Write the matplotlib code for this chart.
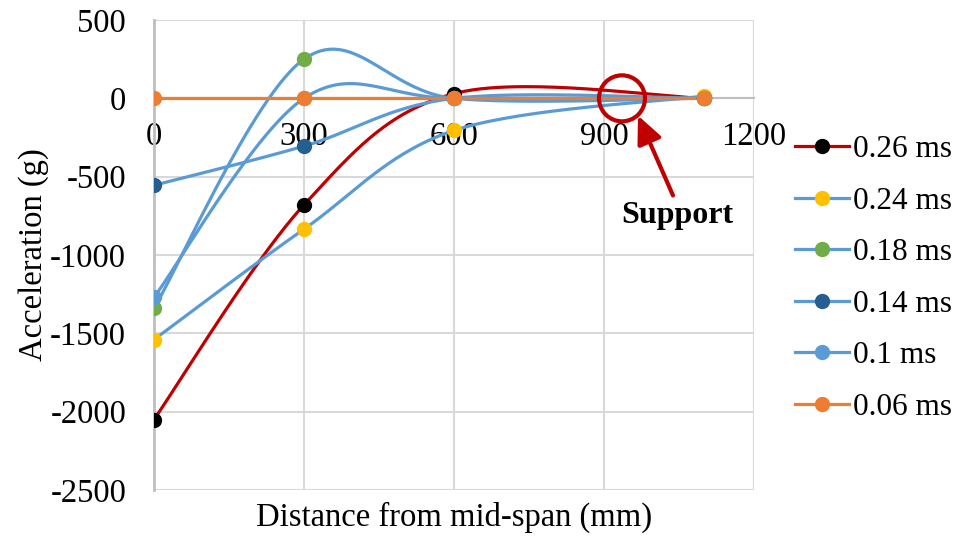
import numpy as np
import matplotlib.pyplot as plt
from matplotlib.patches import Ellipse

plt.rcParams['font.family'] = ['Liberation Serif', 'DejaVu Serif']
plt.rcParams['axes.unicode_minus'] = False

distance = [0, 300, 600, 1100]
labels = ['0.26 ms', '0.24 ms', '0.18 ms', '0.14 ms', '0.1 ms', '0.06 ms']
acc_026 = [-2050, -680, 30, 0]
acc_024 = [-1540, -835, -205, 15]
acc_018 = [-1340, 250, 0, 0]
acc_014 = [-555, -305, 0, 0]
acc_010 = [-1270, 0, 0, 0]
acc_006 = [0, 0, 0, 0]
series = [acc_026, acc_024, acc_018, acc_014, acc_010, acc_006]

line_cols = ['#C00000', '#5B9BD5', '#5B9BD5', '#5B9BD5', '#5B9BD5', '#ED7D31']
mark_cols = ['#000000', '#FFC000', '#70AD47', '#255E91', '#5B9BD5', '#ED7D31']


def smooth(x, y, n=60):
    # bezier smoothing between points, like a spreadsheet "smoothed line"
    p = np.column_stack([x, y]).astype(float)
    out = []
    for i in range(len(p) - 1):
        p0 = p[max(i - 1, 0)]
        p1 = p[i]
        p2 = p[i + 1]
        p3 = p[min(i + 2, len(p) - 1)]
        c1 = p1 + (p2 - p0) / 6
        c2 = p2 - (p3 - p1) / 6
        t = np.linspace(0, 1, n)[:, None]
        seg = ((1 - t)**3 * p1 + 3 * (1 - t)**2 * t * c1
               + 3 * (1 - t) * t**2 * c2 + t**3 * p2)
        out.append(seg if i == 0 else seg[1:])
    out = np.vstack(out)
    return out[:, 0], out[:, 1]


fig = plt.figure(figsize=(9.62, 5.38), dpi=100)
ax = fig.add_axes([154 / 962, 48 / 538, 600 / 962, 470 / 538])

for lab, vals, lc, mc in zip(labels, series, line_cols, mark_cols):
    sx, sy = smooth(distance, vals)
    ax.plot(sx, sy, color=lc, lw=2.3, zorder=3)
    ax.plot(distance, vals, ls='none', marker='o', ms=10, color=mc, zorder=4)
    ax.plot([], [], color=lc, lw=2.3, marker='o', ms=10, mfc=mc, mec=mc, label=lab)

ax.set_xlim(0, 1200)
ax.set_ylim(-2500, 500)
ax.set_xticks(np.arange(0, 1201, 300))
ax.set_yticks(np.arange(-2500, 501, 500))
ax.grid(True, color='#d9d9d9', lw=1.5)
ax.set_axisbelow(True)
for s in ['top', 'right']:
    ax.spines[s].set_visible(False)
ax.spines['bottom'].set_position(('data', 0))
ax.spines['bottom'].set_color('#bfbfbf')
ax.spines['bottom'].set_linewidth(1.5)
ax.spines['left'].set_color('#bfbfbf')
ax.spines['left'].set_linewidth(2)
ax.tick_params(length=0, labelsize=23.5)
ax.tick_params(axis='x', pad=17)
ax.tick_params(axis='y', pad=20)
ax.set_xlabel('Distance from mid-span (mm)', fontsize=23.5)
ax.set_ylabel('Acceleration (g)', fontsize=23.5, labelpad=1)
ax.xaxis.set_label_coords(0.5, -0.025)

# support marker and callout
ax.add_patch(Ellipse((936, 0), 46 * 2, 23 * 2 * 3000 / 470, fill=False,
                     ec='#C00000', lw=3, zorder=5))
ax.annotate('', xy=(968, -110), xytext=(1038, -620),
            arrowprops=dict(arrowstyle='-|>,head_length=1.2,head_width=0.55',
                            color='#C00000', lw=3, shrinkA=0, shrinkB=0),
            fontsize=14, zorder=5)
ax.text(1046, -747, 'Support', fontsize=23, fontweight='bold', ha='center', va='center')

ax.legend(loc='upper left', bbox_to_anchor=(1.047, 0.781), frameon=False,
          fontsize=22.5, handlelength=1.75, handletextpad=0.1, labelspacing=0.72,
          borderaxespad=0)

fig.savefig('out.png', dpi=100)
